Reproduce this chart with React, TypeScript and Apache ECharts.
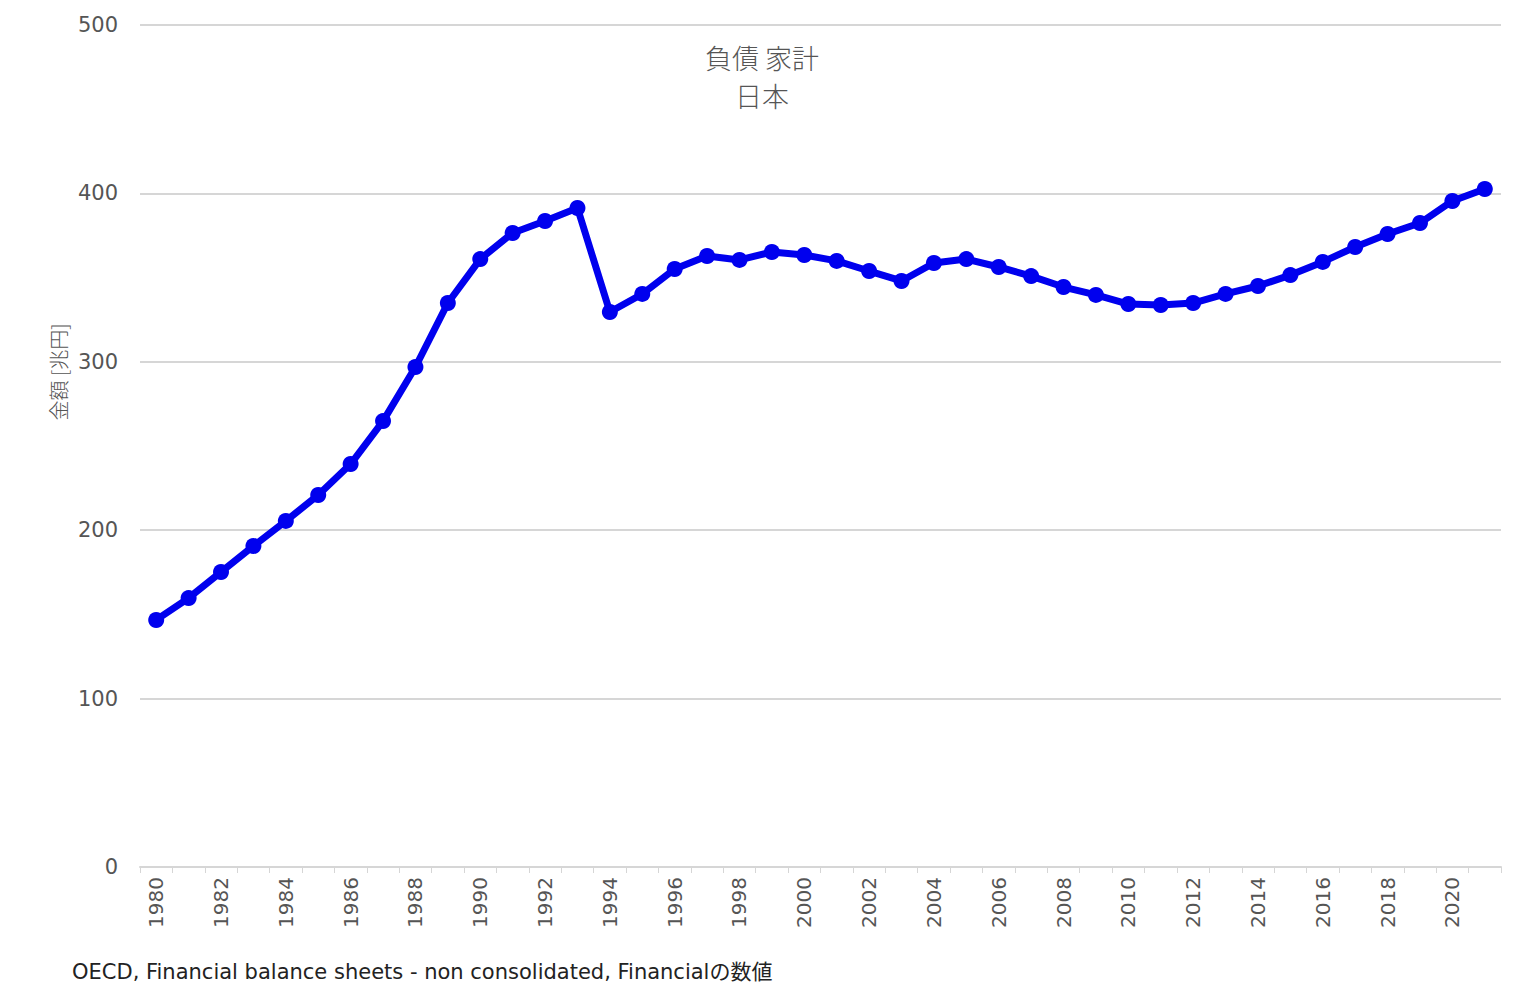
import React, { useEffect, useRef } from "react";
import * as echarts from "echarts";

const years: string[] = [];
for (let y = 1980; y <= 2021; y++) years.push(String(y));

const values = [
  146.7, 159.7, 175.2, 190.6, 205.5, 220.9, 239.3, 264.8, 296.9, 334.9,
  361.0, 376.5, 383.6, 391.3, 329.6, 340.3, 355.1, 362.8, 360.5, 365.2,
  363.4, 359.9, 353.9, 348.0, 358.7, 361.0, 356.3, 350.9, 344.4, 339.7,
  334.3, 333.7, 334.9, 340.3, 345.0, 351.5, 359.3, 368.2, 375.9, 382.4,
  395.5, 402.6,
];

const titleLines = ["負債 家計", "日本"];
const yAxisName = "金額 [兆円]";
const sourceText = "OECD, Financial balance sheets - non consolidated, Financialの数値";

const FONT = "'DejaVu Sans', 'Noto Sans CJK JP', sans-serif";
const CJK = "'Noto Sans CJK JP', sans-serif";

export default function App() {
  const ref = useRef<HTMLDivElement>(null);
  useEffect(() => {
    if (!ref.current) return;
    const chart = echarts.init(ref.current, undefined, { renderer: "svg" });
    chart.setOption({
      animation: false,
      backgroundColor: "#ffffff",
      textStyle: { fontFamily: FONT },
      title: {
        text: titleLines.join("\n"),
        left: "center",
        top: 33,
        textStyle: {
          fontFamily: CJK,
          fontSize: 27,
          fontWeight: 300,
          color: "#555",
          lineHeight: 38,
        },
      },
      grid: { left: 140, right: 23, top: 25, bottom: 128 },
      xAxis: {
        type: "category",
        data: years,
        boundaryGap: true,
        axisLine: { lineStyle: { color: "#d6d6d6", width: 2 } },
        axisTick: { show: true, interval: 0, length: 6, lineStyle: { color: "#d6d6d6" } },
        axisLabel: {
          interval: 1,
          rotate: 90,
          fontSize: 20,
          color: "#555",
          fontFamily: FONT,
          margin: 10,
        },
      },
      yAxis: {
        type: "value",
        min: 0,
        max: 500,
        interval: 100,
        axisLine: { show: false },
        axisTick: { show: false },
        splitLine: { lineStyle: { color: "#d6d6d6", width: 2 } },
        axisLabel: { fontSize: 21, color: "#555", margin: 22, fontFamily: FONT },
      },
      graphic: [
        {
          type: "text",
          x: 58,
          y: 372,
          rotation: Math.PI / 2,
          style: {
            text: yAxisName,
            fontSize: 20,
            fill: "#555",
            fontFamily: CJK,
            fontWeight: 300,
            align: "center",
            verticalAlign: "middle",
          },
        },
        {
          type: "text",
          left: 72,
          top: 961,
          style: {
            text: sourceText,
            fontSize: 21,
            fill: "#222",
            fontFamily: FONT,
          },
        },
      ],
      series: [
        {
          type: "line",
          data: values,
          symbol: "circle",
          symbolSize: 16,
          lineStyle: { color: "#0000ee", width: 7 },
          itemStyle: { color: "#0000ee" },
        },
      ],
    });
    return () => chart.dispose();
  }, []);
  return (
    <div
      ref={ref}
      style={{ position: "absolute", left: 0, top: 0, width: 1524, height: 995 }}
    />
  );
}
